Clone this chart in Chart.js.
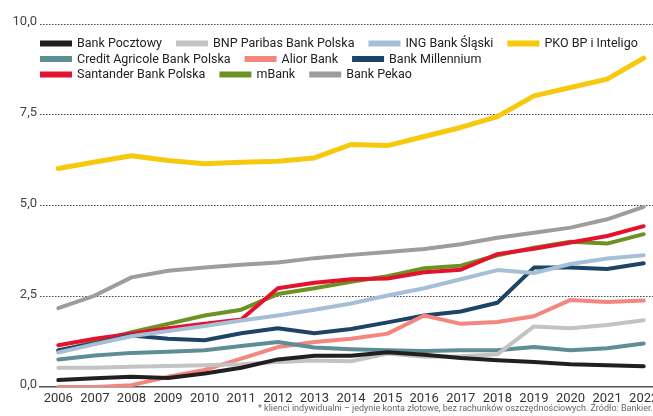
<!DOCTYPE html>
<html lang="pl">
<head>
<meta charset="utf-8">
<script src="https://cdn.jsdelivr.net/npm/chart.js@4.4.1/dist/chart.umd.min.js"></script>
<style>
  html, body { margin: 0; padding: 0; background: #fff; overflow: hidden; }
  #wrap { position: relative; width: 664px; height: 416px; }
</style>
</head>
<body>
<div id="wrap"><canvas id="chart"></canvas></div>
<script>
(function () {
  const years = ["2006", "2007", "2008", "2009", "2010", "2011", "2012", "2013", "2014",
    "2015", "2016", "2017", "2018", "2019", "2020", "2021", "2022"];

  // liczba klientów (mln)
  const pocztowy = [0.19, 0.24, 0.28, 0.25, 0.37, 0.53, 0.76, 0.86, 0.86, 0.96, 0.89, 0.8, 0.74, 0.69, 0.63, 0.6, 0.57];
  const bnp = [0.53, 0.53, 0.56, 0.58, 0.6, 0.63, 0.69, 0.73, 0.71, 0.92, 0.83, 0.85, 0.9, 1.67, 1.62, 1.71, 1.84];
  const ing = [0.95, 1.18, 1.4, 1.54, 1.68, 1.83, 1.97, 2.13, 2.3, 2.52, 2.72, 2.97, 3.22, 3.14, 3.39, 3.54, 3.63];
  const pko = [6.02, 6.2, 6.37, 6.24, 6.15, 6.19, 6.22, 6.31, 6.68, 6.65, 6.9, 7.15, 7.45, 8.02, 8.25, 8.48, 9.06];
  const creditAgricole = [0.76, 0.87, 0.94, 0.97, 1.01, 1.13, 1.24, 1.09, 1.04, 1.01, 0.99, 1.01, 1.01, 1.1, 1.01, 1.07, 1.2];
  const alior = [0, 0, 0.05, 0.28, 0.47, 0.78, 1.1, 1.24, 1.33, 1.47, 1.97, 1.74, 1.79, 1.95, 2.4, 2.34, 2.38];
  const millennium = [1.01, 1.2, 1.42, 1.33, 1.29, 1.48, 1.62, 1.48, 1.6, 1.78, 1.97, 2.08, 2.32, 3.29, 3.29, 3.25, 3.41];
  const santander = [1.15, 1.33, 1.47, 1.62, 1.74, 1.86, 2.72, 2.87, 2.97, 2.99, 3.16, 3.23, 3.66, 3.81, 3.98, 4.16, 4.43];
  const mbank = [0.99, 1.24, 1.51, 1.74, 1.97, 2.13, 2.56, 2.72, 2.9, 3.05, 3.27, 3.34, 3.63, 3.84, 4.0, 3.95, 4.21];
  const pekao = [2.17, 2.52, 3.02, 3.2, 3.29, 3.37, 3.43, 3.55, 3.64, 3.72, 3.8, 3.93, 4.11, 4.25, 4.39, 4.62, 4.96];

  const yTicks = [0, 2.5, 5, 7.5, 10];
  const note = "* klienci indywidualni \u2013 jedynie konta z\u0142otowe, bez rachunk\u00f3w oszcz\u0119dno\u015bciowych. \u0179r\u00f3d\u0142o: Bankier.pl";

  const series = [
    { label: "Bank Pocztowy", data: pocztowy, color: "#231f20" },
    { label: "BNP Paribas Bank Polska", data: bnp, color: "#c3c3c3" },
    { label: "ING Bank Śląski", data: ing, color: "#a5bfd6" },
    { label: "PKO BP i Inteligo", data: pko, color: "#f6c90e", width: 5 },
    { label: "Credit Agricole Bank Polska", data: creditAgricole, color: "#5e8e95" },
    { label: "Alior Bank", data: alior, color: "#f3877f" },
    { label: "Bank Millennium", data: millennium, color: "#1d4466" },
    { label: "Santander Bank Polska", data: santander, color: "#e4122e" },
    { label: "mBank", data: mbank, color: "#6b9223" },
    { label: "Bank Pekao", data: pekao, color: "#9f9c99" }
  ];

  // legend sits inside the plot, three rows like the print version
  const legendRows = [[0, 1, 2, 3], [4, 5, 6], [7, 8, 9]];

  const insideLegend = {
    id: "insideLegend",
    afterDraw(chart) {
      const ctx = chart.ctx;
      ctx.save();
      ctx.font = "12.5px Roboto";
      ctx.textBaseline = "middle";
      legendRows.forEach(function (row, r) {
        let x = 40;
        const y = 43.5 + r * 15.5;
        row.forEach(function (idx) {
          const ds = chart.data.datasets[idx];
          ctx.fillStyle = ds.borderColor;
          ctx.fillRect(x, y - 3, 32, 6);
          ctx.fillStyle = "#222";
          ctx.fillText(ds.label, x + 37, y + 0.5);
          x += 37 + ctx.measureText(ds.label).width + 14;
        });
      });
      ctx.font = "9px Roboto";
      ctx.fillStyle = "#666";
      ctx.fillText(note, 258, 409);
      ctx.restore();
    }
  };

  new Chart(document.getElementById("chart"), {
    type: "line",
    data: {
      labels: years,
      datasets: series.map(function (s) {
        return {
          label: s.label,
          data: s.data,
          borderColor: s.color,
          backgroundColor: s.color,
          borderWidth: s.width || 4,
          pointRadius: 0,
          tension: 0,
          borderJoinStyle: "round",
          borderCapStyle: "round"
        };
      })
    },
    options: {
      responsive: true,
      maintainAspectRatio: false,
      animation: false,
      layout: { padding: { top: 24, right: 2, bottom: 0, left: 0 } },
      plugins: {
        legend: { display: false },
        tooltip: { enabled: false }
      },
      scales: {
        x: {
          type: "category",
          offset: true,
          grid: { display: false, drawTicks: false },
          border: { display: true, color: "#555", width: 1.5 },
          ticks: {
            color: "#333",
            font: { family: "Roboto", size: 13 },
            padding: 4,
            maxRotation: 0,
            autoSkip: false
          },
          afterFit(scale) { scale.height = 29; }
        },
        y: {
          min: 0,
          max: 10,
          afterBuildTicks(scale) { scale.ticks = yTicks.map(function (v) { return { value: v }; }); },
          grid: {
            drawTicks: false,
            lineWidth: 1,
            color: function (c) { return c.tick && c.tick.value === 0 ? "rgba(0,0,0,0)" : "#444"; }
          },
          border: { display: false, dash: [1.5, 1.5] },
          ticks: {
            color: "#444",
            font: { family: "Roboto", size: 13 },
            padding: 3,
            labelOffset: -2,
            callback: function (v) { return Number(v).toFixed(1).replace(".", ","); }
          },
          afterFit(scale) { scale.width = 40; }
        }
      }
    },
    plugins: [insideLegend]
  });
})();
</script>
</body>
</html>
